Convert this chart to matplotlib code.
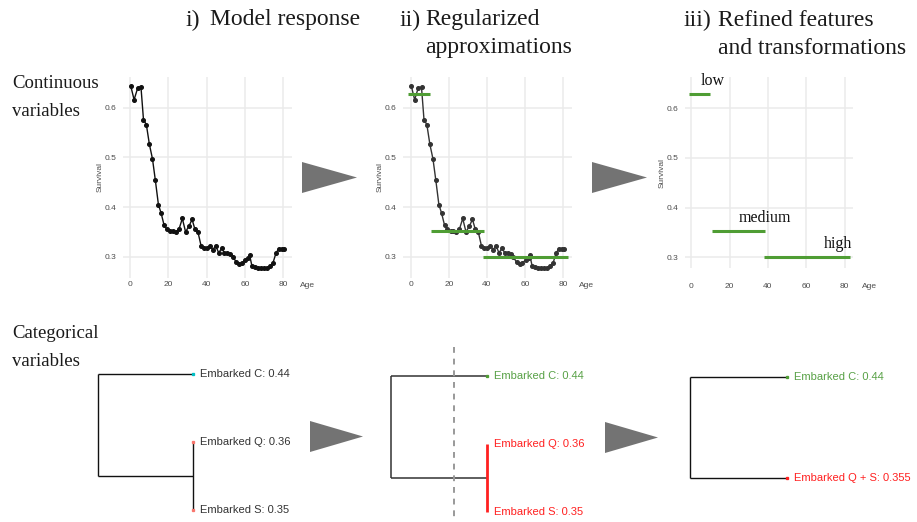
import matplotlib
matplotlib.use("Agg")
import matplotlib.pyplot as plt
from matplotlib.patches import Polygon

# ---------------- data ----------------
ages = [0.4, 2.1, 4.0, 5.7, 7.0, 8.5, 10.1, 11.7, 13.2, 14.8, 16.2, 17.8, 19.3, 20.9,
        22.4, 24.0, 25.6, 27.3, 29.0, 30.8, 32.4, 33.9, 35.5, 37.1, 38.6, 40.2, 41.8,
        43.2, 44.7, 46.3, 47.9, 49.3, 50.8, 52.4, 53.9, 55.5, 57.1, 58.6, 60.2, 61.8,
        62.4, 63.7, 65.3, 66.8, 68.4, 70.0, 71.5, 73.1, 74.7, 76.2, 77.6, 79.2, 80.2]
survival = [0.643, 0.616, 0.640, 0.641, 0.576, 0.566, 0.526, 0.497, 0.454, 0.405, 0.388,
            0.363, 0.355, 0.351, 0.351, 0.350, 0.356, 0.377, 0.350, 0.362, 0.375, 0.355,
            0.349, 0.322, 0.317, 0.318, 0.322, 0.314, 0.322, 0.308, 0.317, 0.308, 0.307,
            0.306, 0.299, 0.289, 0.285, 0.288, 0.293, 0.298, 0.304, 0.281, 0.279, 0.278,
            0.278, 0.277, 0.278, 0.281, 0.288, 0.307, 0.316, 0.316, 0.316]

bin_names = ["low", "medium", "high"]
bin_start = [-1.2, 10.8, 37.9]
bin_end = [10.0, 38.5, 82.6]
bin_value = [0.628, 0.352, 0.300]
bin_label_x = [4.7, 25.0, 69.0]

x_ticks = [0, 20, 40, 60, 80]
y_ticks = [0.3, 0.4, 0.5, 0.6]
y_tick_labels = ["0.3", "0.4", "0.5", "0.6"]

leaf_names = ["Embarked C", "Embarked Q", "Embarked S"]
leaf_values = [0.44, 0.36, 0.35]
merged_name = "Embarked Q + S"
merged_value = 0.355
qs_merge_height = 0.0
root_height = 0.085
cut_height = 0.029

titles = ["i)", "ii)", "iii)"]
title_text = ["Model response", "Regularized\napproximations", "Refined features\nand transformations"]

# ---------------- layout helpers ----------------
W, H = 917, 522
fig = plt.figure(figsize=(W / 100, H / 100), dpi=100)
fig.patch.set_facecolor("white")


def box(l, t, r, b):
    return [l / W, 1 - b / H, (r - l) / W, (b - t) / H]


SERIF = "Liberation Serif"
SANS = "Liberation Sans"
GREEN = "#4f9d34"
GREEN_T = "#58a146"
RED = "#ff2020"
GRID = "#ebebeb"
TICK = "#4d4d4d"


def style_curve_axes(ax, xlim, ylim, xpad):
    ax.set_xlim(*xlim)
    ax.set_ylim(*ylim)
    ax.set_xticks(x_ticks)
    ax.set_xticklabels([str(v) for v in x_ticks])
    ax.set_yticks(y_ticks)
    ax.set_yticklabels(y_tick_labels)
    for s in ax.spines.values():
        s.set_visible(False)
    ax.grid(True, color=GRID, linewidth=1.1)
    ax.set_axisbelow(True)
    ax.tick_params(axis="both", length=0, labelsize=6, labelcolor=TICK)
    ax.tick_params(axis="x", pad=xpad)
    ax.tick_params(axis="y", pad=5)
    for lab in ax.get_xticklabels() + ax.get_yticklabels():
        lab.set_fontfamily(SANS)
    ax.text(-0.135, 0.5, "Survival", rotation=90, transform=ax.transAxes,
            ha="center", va="center", fontsize=6, color=TICK, family=SANS)


# ---------------- continuous panels ----------------
ax1 = fig.add_axes(box(123, 76.7, 292, 278))
ax1.plot(ages, survival, color="#111111", linewidth=1.0, marker="o", markersize=2.6)
style_curve_axes(ax1, (-3.7, 84.6), (0.2572, 0.6624), 2.5)
ax1.text(1.045, -0.035, "Age", transform=ax1.transAxes, ha="left", va="center",
         fontsize=6, color=TICK, family=SANS)

ax2 = fig.add_axes(box(403, 76.7, 571.7, 278))
ax2.plot(ages, survival, color="#333333", linewidth=1.0, marker="o", markersize=2.6)
for s, e, v in zip(bin_start, bin_end, bin_value):
    ax2.plot([s, e], [v, v], color=GREEN, linewidth=2.2, solid_capstyle="butt")
style_curve_axes(ax2, (-4.0, 84.4), (0.2572, 0.6624), 2.5)
ax2.text(1.045, -0.035, "Age", transform=ax2.transAxes, ha="left", va="center",
         fontsize=6, color=TICK, family=SANS)

ax3 = fig.add_axes(box(685, 76.7, 853.3, 268.3))
for s, e, v, name, lx in zip(bin_start, bin_end, bin_value, bin_names, bin_label_x):
    ax3.plot([s, e], [v, v], color=GREEN, linewidth=2.2, solid_capstyle="butt")
    ax3.text(lx, v + 0.027, name, ha="left", va="center", fontsize=11.5,
             family=SERIF, color="#111111")
style_curve_axes(ax3, (-3.2, 84.5), (0.2779, 0.6636), 10.5)
ax3.text(1.05, -0.093, "Age", transform=ax3.transAxes, ha="left", va="center",
         fontsize=6, color=TICK, family=SANS)

# ---------------- dendrograms ----------------
LEAF_Y = [0, 1, 2]


def dendro_axes(l, t, r):
    ax = fig.add_axes(box(l, t, r, t + 2 * 67.85))
    ax.set_xlim(root_height, 0)
    ax.set_ylim(2, 0)
    ax.axis("off")
    return ax


def seg(ax, xs, ys, color, lw=1.0):
    ax.plot(xs, ys, color=color, lw=lw, clip_on=False, solid_capstyle="butt")


def leaf_label(ax, y, text, color):
    ax.annotate(text, xy=(0, y), xytext=(5, 0), textcoords="offset points",
                ha="left", va="center", fontsize=8, color=color, family=SANS,
                annotation_clip=False)


qs_y = (LEAF_Y[1] + LEAF_Y[2]) / 2

# panel i)
d1 = dendro_axes(97.7, 374.3, 193.3)
seg(d1, [root_height, root_height], [LEAF_Y[0], qs_y], "#111111")
seg(d1, [root_height, 0], [LEAF_Y[0], LEAF_Y[0]], "#111111")
seg(d1, [root_height, qs_merge_height], [qs_y, qs_y], "#111111")
seg(d1, [qs_merge_height, qs_merge_height], [LEAF_Y[1], LEAF_Y[2]], "#111111")
d1.plot([0], [LEAF_Y[0]], marker="s", ms=1.4, color="#00bfc4", clip_on=False)
d1.plot([0, 0], [LEAF_Y[1], LEAF_Y[2]], marker="s", ms=1.4, lw=0, color="#f8766d", clip_on=False)
for y, n, v in zip(LEAF_Y, leaf_names, leaf_values):
    leaf_label(d1, y, f"{n}: {v:.2f}", "#333333")

# panel ii)
d2 = dendro_axes(391, 376, 486.7)
seg(d2, [root_height, root_height], [LEAF_Y[0], qs_y], "#333333", 1.1)
seg(d2, [root_height, 0], [LEAF_Y[0], LEAF_Y[0]], "#333333", 1.1)
seg(d2, [root_height, qs_merge_height], [qs_y, qs_y], "#333333", 1.1)
seg(d2, [qs_merge_height, qs_merge_height], [LEAF_Y[1], LEAF_Y[2]], RED, 2.0)
d2.plot([0], [LEAF_Y[0]], marker="s", ms=1.4, color=GREEN, clip_on=False)
d2.plot([cut_height, cut_height], [-0.43, 2.2], color="#999999", lw=1.4,
        linestyle=(0, (3, 3)), clip_on=False)
leaf_colors = [GREEN_T, RED, RED]
for y, n, v, c in zip(LEAF_Y, leaf_names, leaf_values, leaf_colors):
    leaf_label(d2, y, f"{n}: {v:.2f}", c)

# panel iii)
d3 = dendro_axes(690, 376.7, 786.7)
seg(d3, [root_height, root_height], [LEAF_Y[0], qs_y], "#111111")
seg(d3, [root_height, 0], [LEAF_Y[0], LEAF_Y[0]], "#111111")
seg(d3, [root_height, 0], [qs_y, qs_y], "#111111")
d3.plot([0], [LEAF_Y[0]], marker="s", ms=1.4, color=GREEN, clip_on=False)
d3.plot([0], [qs_y], marker="s", ms=1.4, color=RED, clip_on=False)
leaf_label(d3, LEAF_Y[0], f"{leaf_names[0]}: {leaf_values[0]:.2f}", GREEN_T)
leaf_label(d3, qs_y, f"{merged_name}: {merged_value:.3f}", RED)

# ---------------- arrows (layout decoration) ----------------
for (x0, yt, x1, yb) in [(302, 162, 357, 193), (592, 162, 647, 193),
                         (310, 421, 363, 452), (605, 422, 658, 453)]:
    pts = [(x0 / W, 1 - yt / H), (x1 / W, 1 - (yt + yb) / 2 / H), (x0 / W, 1 - yb / H)]
    fig.patches.append(Polygon(pts, closed=True, transform=fig.transFigure,
                               facecolor="#737373", edgecolor="none"))

# ---------------- texts ----------------
def ftext(x, y, s, size, **kw):
    fig.text(x / W, 1 - y / H, s, fontsize=size, family=SERIF, color="#1a1a1a",
             va="center", ha="left", **kw)


ftext(12, 84, "Continuous", 13.5)
ftext(12, 112, "variables", 13.5)
ftext(12, 334, "Categorical", 13.5)
ftext(12, 362, "variables", 13.5)

title_x = [(186, 210), (400, 425), (684, 718)]
for (xi, xt), num, txt in zip(title_x, titles, title_text):
    ftext(xi, 20, num, 17)
    lines = txt.split("\n")
    for k, line in enumerate(lines):
        ftext(xt, 20 + 28 * k, line, 17)

fig.savefig("out.png", dpi=100, facecolor="white")
